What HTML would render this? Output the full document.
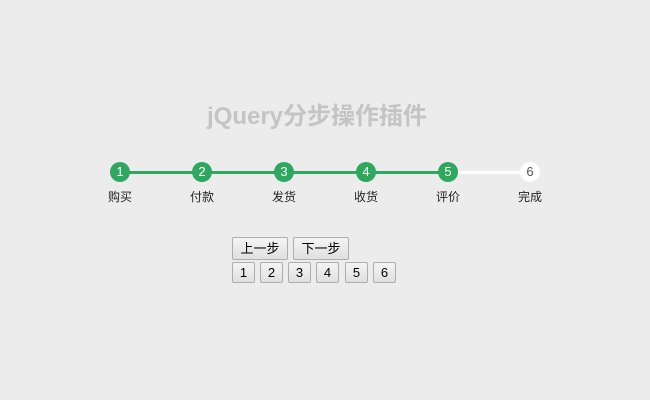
<!DOCTYPE html>
<html><head><meta charset="utf-8"><style>
body{margin:0;width:650px;height:400px;background:#ececec;position:relative;font-family:"Liberation Sans","Noto Sans CJK SC",sans-serif;overflow:hidden}
.t{position:absolute;left:0;width:634px;top:96px;text-align:center;font-size:24px;font-weight:bold;color:#c4c4c4}
.line{position:absolute;top:171px;height:3px;background:#2ea85f}
.c{position:absolute;width:20px;height:20px;border-radius:50%;background:#2ea85f;color:#fff;font-size:13px;line-height:20px;text-align:center;top:162px}
.l{position:absolute;top:188px;width:40px;text-align:center;font-size:12px;color:#222}
.b{position:absolute;box-sizing:border-box;border:1px solid #adadad;background:linear-gradient(#f4f4f4,#e0e0e0);font-size:13px;text-align:center;color:#000;border-radius:2px}
</style></head><body>
<div class="t">jQuery分步操作插件</div>
<div class="line" style="left:120px;width:328px"></div>
<div class="line" style="left:448px;width:82px;background:#fff"></div>
<div class="c" style="left:110px">1</div>
<div class="c" style="left:192px">2</div>
<div class="c" style="left:274px">3</div>
<div class="c" style="left:356px">4</div>
<div class="c" style="left:438px">5</div>
<div class="c" style="left:520px;background:#fff;color:#555">6</div>
<div class="l" style="left:100px">购买</div>
<div class="l" style="left:182px">付款</div>
<div class="l" style="left:264px">发货</div>
<div class="l" style="left:346px">收货</div>
<div class="l" style="left:428px">评价</div>
<div class="l" style="left:510px">完成</div>
<div class="b" style="left:232px;top:237px;width:56px;height:23px;line-height:21px">上一步</div>
<div class="b" style="left:293px;top:237px;width:56px;height:23px;line-height:21px">下一步</div>
<div class="b" style="left:232px;top:262px;width:23px;height:21px;line-height:19px">1</div>
<div class="b" style="left:260px;top:262px;width:23px;height:21px;line-height:19px">2</div>
<div class="b" style="left:288px;top:262px;width:23px;height:21px;line-height:19px">3</div>
<div class="b" style="left:316px;top:262px;width:23px;height:21px;line-height:19px">4</div>
<div class="b" style="left:345px;top:262px;width:23px;height:21px;line-height:19px">5</div>
<div class="b" style="left:373px;top:262px;width:23px;height:21px;line-height:19px">6</div>
</body></html>
